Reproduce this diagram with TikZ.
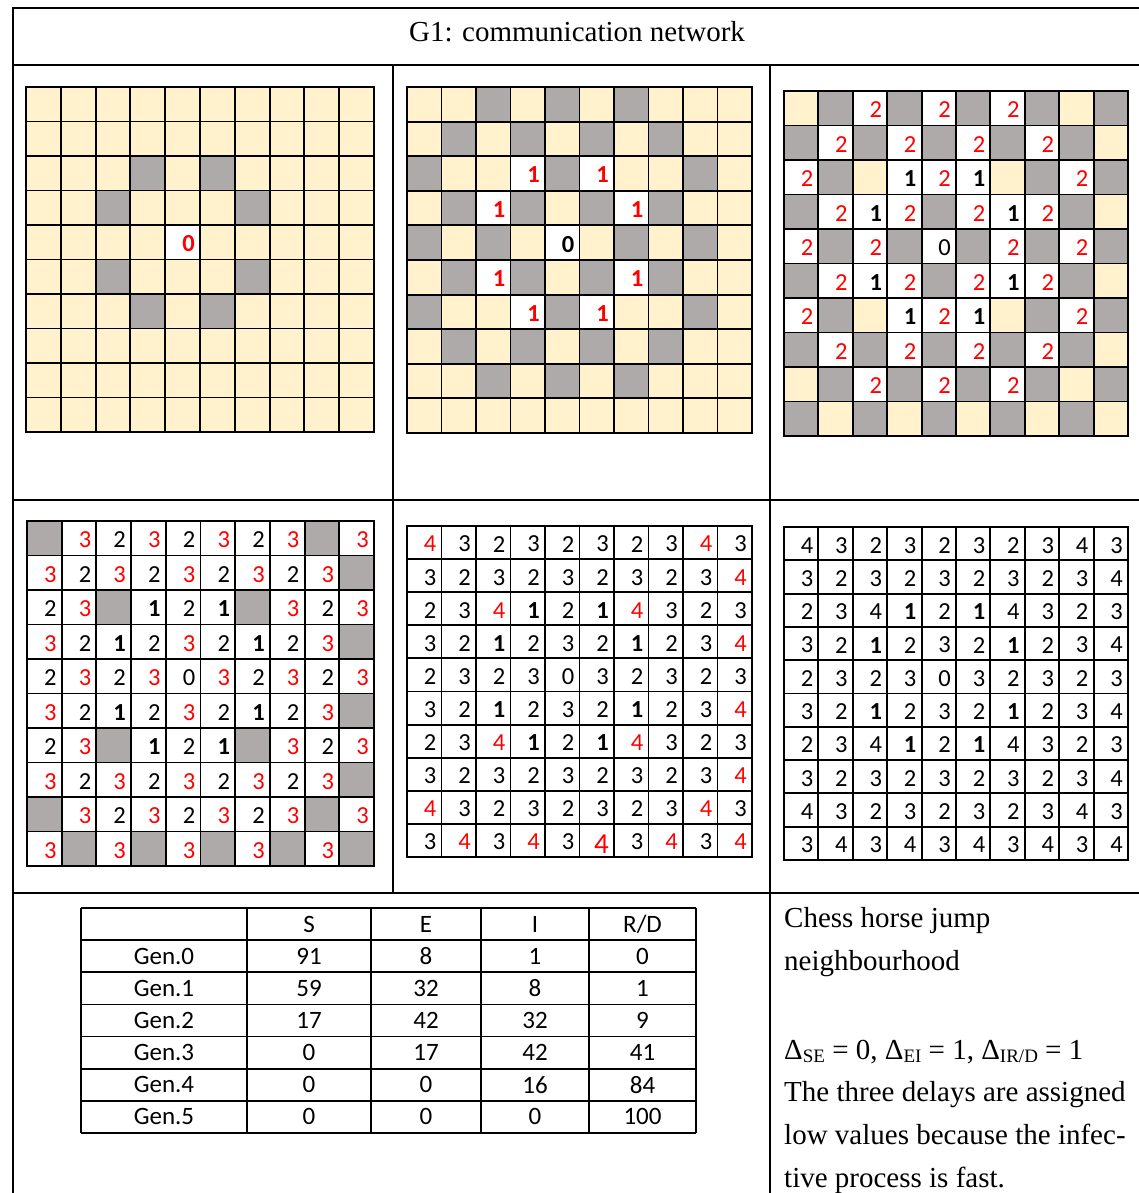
\documentclass[tikz,border=0pt]{standalone}
\usepackage{fontspec}
\setmainfont{Liberation Serif}
\newfontfamily\calibri{Carlito}
\definecolor{cellY}{HTML}{FFF2CC}
\definecolor{cellG}{HTML}{AEAAAA}
\definecolor{cellW}{HTML}{FFFFFF}
\definecolor{numred}{HTML}{FF0000}
\tikzset{
  gridline/.style={line width=1.9pt, black},
  gridouter/.style={line width=2.5pt, black},
  frameline/.style={line width=2pt, black},
  tabline/.style={line width=1.8pt, black},
  numbase/.style={anchor=east, inner sep=0pt, font=\calibri\fontsize{24.5}{24.5}\selectfont},
  numn/.style={numbase, text=black},
  numr/.style={numbase, text=numred},
  numR/.style={numbase, text=numred, font=\calibri\bfseries\fontsize{24.5}{24.5}\selectfont},
  numb/.style={numbase, text=black, font=\calibri\bfseries\fontsize{24.5}{24.5}\selectfont},
  numL/.style={numbase, text=numred, font=\calibri\fontsize{29}{29}\selectfont, yshift=-2pt},
  tabtext/.style={inner sep=0pt, font=\calibri\fontsize{25}{25}\selectfont},
  serif/.style={inner sep=0pt, font=\fontsize{29}{35}\selectfont},
}
\def\parsecell#1#2#3\relax#4#5#6{%
  \pgfmathsetmacro\xa{#5+(\ci-1)*\cw}%
  \pgfmathsetmacro\ya{#6+(\ri-1)*\ch}%
  \fill[cell#1] (\xa,\ya) rectangle ++(\cw,\ch);%
  \if#2-\else
    \node[num#3] (#4-\ri-\ci) at (\xa+\cw-5,\ya+\ch/2+1.5) {#2};%
  \fi
}
\newcommand\drawgrid[6]{%
  \pgfmathsetmacro\cw{(#4-#2)/10}%
  \pgfmathsetmacro\ch{(#5-#3)/10}%
  \foreach \rowdata [count=\ri] in {#6} {%
    \foreach \code [count=\ci] in \rowdata {%
      \expandafter\parsecell\code\relax{#1}{#2}{#3}%
    }%
  }%
  \foreach \k in {1,...,9} {%
    \draw[gridline] (#2+\k*\cw,#3) -- (#2+\k*\cw,#5);%
    \draw[gridline] (#2,#3+\k*\ch) -- (#4,#3+\k*\ch);%
  }%
  \draw[gridouter] (#2,#3) rectangle (#4,#5);%
}
\newcommand\sub[1]{\raisebox{-3pt}{\fontsize{19}{19}\selectfont #1}}
\begin{document}
\begin{tikzpicture}[x=1pt,y=-1pt]
\useasboundingbox (0,0) rectangle (1139,1193);
\fill[white] (0,0) rectangle (1139,1193);

% outer frame
\draw[frameline] (1139,8) -- (13,8) -- (13,1193);
\draw[frameline] (13,65) -- (1139,65);
\draw[frameline] (13,500) -- (1139,500);
\draw[frameline] (13,893) -- (1139,893);
\draw[frameline] (393,65) -- (393,893);
\draw[frameline] (770,65) -- (770,1193);

\node[serif, anchor=base] (title) at (577,41.5) {G1: communication network};

% Grid A : generation 0
\drawgrid{gA}{26}{87}{374}{432}{%
{Y--,Y--,Y--,Y--,Y--,Y--,Y--,Y--,Y--,Y--},%
{Y--,Y--,Y--,Y--,Y--,Y--,Y--,Y--,Y--,Y--},%
{Y--,Y--,Y--,G--,Y--,G--,Y--,Y--,Y--,Y--},%
{Y--,Y--,G--,Y--,Y--,Y--,G--,Y--,Y--,Y--},%
{Y--,Y--,Y--,Y--,W0R,Y--,Y--,Y--,Y--,Y--},%
{Y--,Y--,G--,Y--,Y--,Y--,G--,Y--,Y--,Y--},%
{Y--,Y--,Y--,G--,Y--,G--,Y--,Y--,Y--,Y--},%
{Y--,Y--,Y--,Y--,Y--,Y--,Y--,Y--,Y--,Y--},%
{Y--,Y--,Y--,Y--,Y--,Y--,Y--,Y--,Y--,Y--},%
{Y--,Y--,Y--,Y--,Y--,Y--,Y--,Y--,Y--,Y--}}

% Grid B : generation 1
\drawgrid{gB}{407}{87}{752}{433}{%
{Y--,Y--,G--,Y--,G--,Y--,G--,Y--,Y--,Y--},%
{Y--,G--,Y--,G--,Y--,G--,Y--,G--,Y--,Y--},%
{G--,Y--,Y--,W1R,G--,W1R,Y--,Y--,G--,Y--},%
{Y--,G--,W1R,G--,Y--,G--,W1R,G--,Y--,Y--},%
{G--,Y--,G--,Y--,W0b,Y--,G--,Y--,G--,Y--},%
{Y--,G--,W1R,G--,Y--,G--,W1R,G--,Y--,Y--},%
{G--,Y--,Y--,W1R,G--,W1R,Y--,Y--,G--,Y--},%
{Y--,G--,Y--,G--,Y--,G--,Y--,G--,Y--,Y--},%
{Y--,Y--,G--,Y--,G--,Y--,G--,Y--,Y--,Y--},%
{Y--,Y--,Y--,Y--,Y--,Y--,Y--,Y--,Y--,Y--}}

% Grid C : generation 2
\drawgrid{gC}{784}{91}{1128}{436}{%
{Y--,G--,W2r,G--,W2r,G--,W2r,G--,Y--,G--},%
{G--,W2r,G--,W2r,G--,W2r,G--,W2r,G--,Y--},%
{W2r,G--,Y--,W1b,W2r,W1b,Y--,G--,W2r,G--},%
{G--,W2r,W1b,W2r,G--,W2r,W1b,W2r,G--,Y--},%
{W2r,G--,W2r,G--,W0n,G--,W2r,G--,W2r,G--},%
{G--,W2r,W1b,W2r,G--,W2r,W1b,W2r,G--,Y--},%
{W2r,G--,Y--,W1b,W2r,W1b,Y--,G--,W2r,G--},%
{G--,W2r,G--,W2r,G--,W2r,G--,W2r,G--,Y--},%
{Y--,G--,W2r,G--,W2r,G--,W2r,G--,Y--,G--},%
{G--,Y--,G--,Y--,G--,Y--,G--,Y--,G--,Y--}}

% Grid D : generation 3
\drawgrid{gD}{27}{521}{374}{866}{%
{G--,W3r,W2n,W3r,W2n,W3r,W2n,W3r,G--,W3r},%
{W3r,W2n,W3r,W2n,W3r,W2n,W3r,W2n,W3r,G--},%
{W2n,W3r,G--,W1b,W2n,W1b,G--,W3r,W2n,W3r},%
{W3r,W2n,W1b,W2n,W3r,W2n,W1b,W2n,W3r,G--},%
{W2n,W3r,W2n,W3r,W0n,W3r,W2n,W3r,W2n,W3r},%
{W3r,W2n,W1b,W2n,W3r,W2n,W1b,W2n,W3r,G--},%
{W2n,W3r,G--,W1b,W2n,W1b,G--,W3r,W2n,W3r},%
{W3r,W2n,W3r,W2n,W3r,W2n,W3r,W2n,W3r,G--},%
{G--,W3r,W2n,W3r,W2n,W3r,W2n,W3r,G--,W3r},%
{W3r,G--,W3r,G--,W3r,G--,W3r,G--,W3r,G--}}

% Grid E : generation 4
\drawgrid{gE}{407}{526}{752}{857}{%
{W4r,W3n,W2n,W3n,W2n,W3n,W2n,W3n,W4r,W3n},%
{W3n,W2n,W3n,W2n,W3n,W2n,W3n,W2n,W3n,W4r},%
{W2n,W3n,W4r,W1b,W2n,W1b,W4r,W3n,W2n,W3n},%
{W3n,W2n,W1b,W2n,W3n,W2n,W1b,W2n,W3n,W4r},%
{W2n,W3n,W2n,W3n,W0n,W3n,W2n,W3n,W2n,W3n},%
{W3n,W2n,W1b,W2n,W3n,W2n,W1b,W2n,W3n,W4r},%
{W2n,W3n,W4r,W1b,W2n,W1b,W4r,W3n,W2n,W3n},%
{W3n,W2n,W3n,W2n,W3n,W2n,W3n,W2n,W3n,W4r},%
{W4r,W3n,W2n,W3n,W2n,W3n,W2n,W3n,W4r,W3n},%
{W3n,W4r,W3n,W4r,W3n,W4L,W3n,W4r,W3n,W4r}}

% Grid F : generation 5
\drawgrid{gF}{784}{527}{1128}{860}{%
{W4n,W3n,W2n,W3n,W2n,W3n,W2n,W3n,W4n,W3n},%
{W3n,W2n,W3n,W2n,W3n,W2n,W3n,W2n,W3n,W4n},%
{W2n,W3n,W4n,W1b,W2n,W1b,W4n,W3n,W2n,W3n},%
{W3n,W2n,W1b,W2n,W3n,W2n,W1b,W2n,W3n,W4n},%
{W2n,W3n,W2n,W3n,W0n,W3n,W2n,W3n,W2n,W3n},%
{W3n,W2n,W1b,W2n,W3n,W2n,W1b,W2n,W3n,W4n},%
{W2n,W3n,W4n,W1b,W2n,W1b,W4n,W3n,W2n,W3n},%
{W3n,W2n,W3n,W2n,W3n,W2n,W3n,W2n,W3n,W4n},%
{W4n,W3n,W2n,W3n,W2n,W3n,W2n,W3n,W4n,W3n},%
{W3n,W4n,W3n,W4n,W3n,W4n,W3n,W4n,W3n,W4n}}

% Table
\foreach \yy in {0,...,7} {\draw[tabline] (81,908+\yy*32.14) -- (696,908+\yy*32.14);}
\foreach \xx in {81,247,371,481,589,696} {\draw[tabline] (\xx,908) -- (\xx,1133);}
\node[tabtext] (th1) at (309,924.07) {S};
\node[tabtext] (th2) at (426,924.07) {E};
\node[tabtext] (th3) at (535,924.07) {I};
\node[tabtext] (th4) at (642.5,924.07) {R/D};
\foreach \lab/\va/\vb/\vc/\vd [count=\k] in {Gen.0/91/8/1/0,Gen.1/59/32/8/1,Gen.2/17/42/32/9,Gen.3/0/17/42/41,Gen.4/0/0/16/84,Gen.5/0/0/0/100} {
  \node[tabtext] (tr\k-0) at (164,924.07+\k*32.14) {\lab};
  \node[tabtext] (tr\k-1) at (309,924.07+\k*32.14) {\va};
  \node[tabtext] (tr\k-2) at (426,924.07+\k*32.14) {\vb};
  \node[tabtext] (tr\k-3) at (535,924.07+\k*32.14) {\vc};
  \node[tabtext] (tr\k-4) at (642.5,924.07+\k*32.14) {\vd};
}

% Right description
\node[serif, anchor=base west] (d1) at (784,927) {Chess horse jump};
\node[serif, anchor=base west] (d2) at (784,970) {neighbourhood};
\node[serif, anchor=base west] (d3) at (784,1059) {Δ\sub{SE} = 0, Δ\sub{EI} = 1, Δ\sub{IR/D} = 1};
\node[serif, anchor=base west] (d4) at (784,1101) {The three delays are assigned};
\node[serif, anchor=base west] (d5) at (784,1144) {low values because the infec-};
\node[serif, anchor=base west] (d6) at (784,1187) {tive process is fast.};
\end{tikzpicture}
\end{document}
